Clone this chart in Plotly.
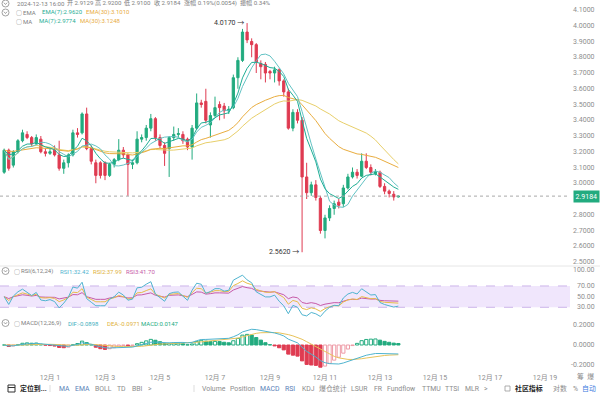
import numpy as np
import pandas as pd
import plotly.graph_objects as go

# ---------------- data (4h candles) ----------------
start_time = "2024-11-29 08:00"
opens = [3.07, 3.21, 3.115, 3.20, 3.27, 3.31, 3.29, 3.25, 3.28, 3.20,
         3.19, 3.21, 3.18, 3.095, 3.13, 3.18, 3.32, 3.32, 3.44, 3.22,
         3.13, 3.13, 3.13, 3.05, 3.12, 3.15, 3.21, 3.18, 3.12, 3.13,
         3.28, 3.29, 3.35, 3.41, 3.29, 3.24, 3.22, 3.29, 3.31, 3.31,
         3.28, 3.23, 3.35, 3.51, 3.52, 3.37, 3.43, 3.50, 3.49, 3.46,
         3.48, 3.67, 3.78, 3.96, 3.90, 3.88, 3.76, 3.755, 3.71, 3.70,
         3.72, 3.65, 3.58, 3.35, 3.45, 3.40, 3.04, 2.94, 2.99, 2.905,
         2.70, 2.78, 2.84, 2.88, 2.87, 2.97, 3.04, 3.07, 3.045, 3.14,
         3.10, 3.06, 3.07, 2.98, 2.95, 2.93, 2.9129]
highs = [3.22, 3.22, 3.21, 3.28, 3.34, 3.33, 3.30, 3.31, 3.30, 3.22,
         3.23, 3.24, 3.27, 3.15, 3.19, 3.34, 3.35, 3.45, 3.48, 3.24,
         3.15, 3.14, 3.14, 3.13, 3.16, 3.28, 3.23, 3.19, 3.15, 3.33,
         3.31, 3.37, 3.44, 3.42, 3.31, 3.26, 3.30, 3.36, 3.35, 3.33,
         3.29, 3.37, 3.57, 3.53, 3.60, 3.45, 3.55, 3.52, 3.51, 3.49,
         3.69, 3.80, 3.98, 4.017, 3.92, 3.89, 3.78, 3.77, 3.72, 3.74,
         3.73, 3.66, 3.60, 3.47, 3.47, 3.42, 3.13, 3.01, 3.02, 2.92,
         2.80, 2.86, 2.89, 2.90, 2.99, 3.06, 3.10, 3.09, 3.19, 3.19,
         3.12, 3.09, 3.08, 3.00, 2.96, 2.95, 2.92]
lows = [3.06, 3.08, 3.10, 3.19, 3.26, 3.28, 3.23, 3.24, 3.19, 3.17,
        3.18, 3.17, 3.08, 3.06, 3.10, 3.17, 3.29, 3.31, 3.21, 3.12,
        3.00, 3.03, 3.02, 3.04, 3.10, 3.14, 3.16, 2.92, 3.09, 3.12,
        3.26, 3.27, 3.33, 3.27, 3.22, 3.11, 3.04, 3.27, 3.29, 3.25,
        3.21, 3.15, 3.34, 3.48, 3.38, 3.29, 3.42, 3.40, 3.41, 3.44,
        3.47, 3.60, 3.77, 3.89, 3.80, 3.70, 3.66, 3.64, 3.66, 3.64,
        3.62, 3.55, 3.34, 3.33, 3.38, 2.562, 2.90, 2.92, 2.89, 2.68,
        2.65, 2.76, 2.80, 2.84, 2.85, 2.96, 3.03, 3.03, 3.04, 3.09,
        3.05, 3.05, 2.97, 2.93, 2.91, 2.89, 2.91]
closes = [3.21, 3.095, 3.20, 3.27, 3.32, 3.29, 3.25, 3.29, 3.20, 3.19,
          3.20, 3.18, 3.095, 3.13, 3.18, 3.32, 3.31, 3.44, 3.22, 3.14,
          3.05, 3.05, 3.05, 3.12, 3.15, 3.21, 3.18, 3.12, 3.13, 3.28,
          3.29, 3.35, 3.41, 3.29, 3.24, 3.19, 3.29, 3.31, 3.315, 3.27,
          3.23, 3.35, 3.51, 3.50, 3.40, 3.43, 3.48, 3.48, 3.46, 3.47,
          3.67, 3.78, 3.96, 3.91, 3.88, 3.77, 3.74, 3.70, 3.70, 3.72,
          3.65, 3.58, 3.35, 3.45, 3.40, 3.04, 2.94, 2.99, 2.91, 2.70,
          2.78, 2.84, 2.87, 2.86, 2.97, 3.04, 3.07, 3.05, 3.14, 3.10,
          3.07, 3.075, 2.98, 2.95, 2.935, 2.9129, 2.9184]

last_price = 2.9184
peak_label = "4.0170"
trough_label = "2.5620"

header_parts = ["2024-12-13 16:00", "开 2.9129", "高 2.9200", "低 2.9100", "收 2.9184",
                "涨幅 0.19%(0.0054)", "振幅 0.34%"]
ema_labels = ["EMA(7):2.9620", "EMA(30):3.1010"]
ma_labels = ["MA(7):2.9774", "MA(30):3.1248"]
rsi_labels = ["RSI1:32.42", "RSI2:37.99", "RSI3:41.70"]
macd_labels = ["DIF:-0.0898", "DEA:-0.0971", "MACD:0.0147"]

# 2.9000 is hidden behind the last-price tag in the reference
price_ticks = [2.5, 2.6, 2.7, 2.8, 3.0, 3.1, 3.2, 3.3, 3.4, 3.5, 3.6, 3.7, 3.8, 3.9, 4.0, 4.1]
rsi_ticks = [30, 50, 70, 100]
macd_ticks = [-0.2, 0.0, 0.2]
date_ticks = ["2024-12-01", "2024-12-03", "2024-12-05", "2024-12-07", "2024-12-09",
              "2024-12-11", "2024-12-13", "2024-12-15", "2024-12-17", "2024-12-19"]
date_tick_text = ["12月 1", "12月 3", "12月 5", "12月 7", "12月 9",
                  "12月 11", "12月 13", "12月 15", "12月 17", "12月 19"]

toolbar_left = ["MA", "EMA", "BOLL", "TD", "BBI", ">"]
toolbar_mid = ["Volume", "Position", "MACD", "RSI", "KDJ", "爆仓统计", "LSUR", "FR",
               "Fundflow", "TTMU", "TTSI", "MLR", ">"]

# ---------------- derived indicators ----------------
times = pd.date_range(start_time, periods=len(closes), freq="4h")
c = pd.Series(closes, dtype=float)
ema7 = c.ewm(span=7, adjust=False).mean()
ema30 = c.ewm(span=30, adjust=False).mean()
ma7 = c.rolling(7, min_periods=1).mean()
ma30 = c.rolling(30, min_periods=1).mean()

d = c.diff().fillna(0).values
seed = float(np.abs(d[1:]).mean()) / 2


def rsi(n):
    up, ab = seed, 2 * seed
    out = []
    for v in d:
        up = (up * (n - 1) + max(v, 0.0)) / n
        ab = (ab * (n - 1) + abs(v)) / n
        out.append(100 * up / ab)
    return out


rsi1, rsi2, rsi3 = rsi(6), rsi(12), rsi(24)
dif = c.ewm(span=12, adjust=False).mean() - c.ewm(span=26, adjust=False).mean()
dea = dif.ewm(span=9, adjust=False).mean()
hist = 2 * (dif - dea)

GREEN = "#22ab7f"
RED = "#df3b51"
GRAY = "#8e8e8e"
TEAL1 = "#1fae95"
TEAL2 = "#63c3c4"
YEL1 = "#e9ad3f"
YEL2 = "#e8cf6a"

fill_c, line_c = [], []
prev = 0.0
for h in hist:
    if h >= 0:
        if h >= prev:
            fill_c.append("white"); line_c.append(GREEN)
        else:
            fill_c.append(GREEN); line_c.append(GREEN)
    else:
        if h <= prev:
            fill_c.append(RED); line_c.append(RED)
        else:
            fill_c.append("white"); line_c.append("#ee9aa6")
    prev = h

# ---------------- figure ----------------
fig = go.Figure()
fig.add_trace(go.Candlestick(
    x=times, open=opens, high=highs, low=lows, close=closes,
    increasing=dict(line=dict(color=GREEN, width=1), fillcolor=GREEN),
    decreasing=dict(line=dict(color=RED, width=1), fillcolor=RED),
    whiskerwidth=0, yaxis="y", xaxis="x", hoverinfo="skip"))
for s, col in [(ma30, YEL2), (ema30, YEL1), (ma7, TEAL2), (ema7, TEAL1)]:
    fig.add_trace(go.Scatter(x=times, y=s, mode="lines", line=dict(color=col, width=1),
                             yaxis="y", hoverinfo="skip"))
for s, col in [(rsi3, "#c65aa8"), (rsi2, "#e7bd48"), (rsi1, "#4fb4cf")]:
    fig.add_trace(go.Scatter(x=times, y=s, mode="lines", line=dict(color=col, width=1),
                             yaxis="y2", hoverinfo="skip"))
fig.add_trace(go.Bar(x=times, y=hist, marker=dict(color=fill_c, line=dict(color=line_c, width=1)),
                     yaxis="y3", hoverinfo="skip"))
fig.add_trace(go.Scatter(x=times, y=dea, mode="lines", line=dict(color="#e8c35a", width=1),
                         yaxis="y3", hoverinfo="skip"))
fig.add_trace(go.Scatter(x=times, y=dif, mode="lines", line=dict(color="#4fb4cf", width=1),
                         yaxis="y3", hoverinfo="skip"))

PW, PH = 570.0, 372.0


def fx(p):
    return p / PW


def fy(p):
    return 1 - p / PH


FONT = "Roboto, 'Noto Sans CJK SC', sans-serif"
axis_font = dict(family=FONT, size=7, color=GRAY)
yax_common = dict(side="right", anchor="x", showticklabels=False, showgrid=False,
                  zeroline=False, ticks="")

fig.update_layout(
    width=600, height=395, margin=dict(l=0, r=30, t=0, b=23, autoexpand=False),
    paper_bgcolor="white", plot_bgcolor="white", showlegend=False,
    bargap=0.3, font=dict(family=FONT),
    xaxis=dict(type="date", anchor="y3",
               range=["2024-11-29 04:22", "2024-12-19 21:49"],
               tickvals=date_ticks, ticktext=date_tick_text, tickfont=axis_font,
               showgrid=False, zeroline=False, showline=False, ticks="",
               rangeslider=dict(visible=False)),
    yaxis=dict(domain=[fy(265), 1], range=[2.481, 4.1635], **yax_common),
    yaxis2=dict(domain=[fy(318), fy(266)], range=[9.9, 107.5], **yax_common),
    yaxis3=dict(domain=[0, fy(318)], range=[-0.27, 0.27], **yax_common),
)

shapes = []
shapes.append(dict(type="rect", xref="paper", yref="y2", x0=0, x1=1, y0=30, y1=70,
                   fillcolor="rgba(222,200,248,0.45)", line=dict(width=0), layer="below"))
for lv in (30, 70):
    shapes.append(dict(type="line", xref="paper", yref="y2", x0=0, x1=1, y0=lv, y1=lv,
                       line=dict(color="#cdb4ea", width=1, dash="dash"), layer="below"))
shapes.append(dict(type="line", xref="paper", yref="paper", x0=0, x1=fx(600),
                   y0=fy(266), y1=fy(266), line=dict(color="#e6e6e6", width=1)))
shapes.append(dict(type="line", xref="paper", yref="y", x0=0, x1=1, y0=last_price, y1=last_price,
                   line=dict(color="#a8a8a8", width=1, dash="dot")))
for yc in (3.5, 12.5, 271, 323):
    shapes.append(dict(type="circle", xref="paper", yref="paper",
                       x0=fx(2), x1=fx(9), y0=fy(yc + 3.5), y1=fy(yc - 3.5),
                       line=dict(color="#8a8a8a", width=0.8)))
    shapes.append(dict(type="path", xref="paper", yref="paper",
                       path=f"M {fx(3.9)} {fy(yc - 0.8)} L {fx(5.5)} {fy(yc + 1.0)} L {fx(7.1)} {fy(yc - 0.8)}",
                       line=dict(color="#8a8a8a", width=0.8)))
for xs in (50, 194):
    shapes.append(dict(type="line", xref="paper", yref="paper", x0=fx(xs), x1=fx(xs),
                       y0=fy(385), y1=fy(392), line=dict(color="#dddddd", width=1)))
shapes.append(dict(type="rect", xref="paper", yref="paper", x0=fx(8), x1=fx(15),
                   y0=fy(392), y1=fy(385), line=dict(color="#333", width=1)))
shapes.append(dict(type="line", xref="paper", yref="paper", x0=fx(8), x1=fx(15),
                   y0=fy(387.5), y1=fy(387.5), line=dict(color="#333", width=1)))
shapes.append(dict(type="rect", xref="paper", yref="paper", x0=fx(505), x1=fx(510),
                   y0=fy(391), y1=fy(386), line=dict(color="#999", width=0.8)))
fig.update_layout(shapes=shapes)

ann = []


def text(t, x, y, size=6.0, color=GRAY, anchor="left", bold=False):
    if bold:
        t = f"<b>{t}</b>"
    ann.append(dict(text=t, xref="paper", yref="paper", x=fx(x), y=fy(y), xanchor=anchor,
                    yanchor="middle", showarrow=False,
                    font=dict(family=FONT, size=size, color=color)))


# right-aligned axis labels
for yref, vals, fmt in (("y", price_ticks, "{:.4f}"), ("y2", rsi_ticks, "{:.2f}"),
                        ("y3", macd_ticks, "{:.4f}")):
    for v in vals:
        ann.append(dict(text=fmt.format(v), xref="paper", yref=yref, x=fx(597), y=v,
                        xanchor="right", yanchor="middle", showarrow=False,
                        font=dict(family=FONT, size=7, color=GRAY)))

hx = [15, 65, 93, 122, 152, 182, 238]
for t, x in zip(header_parts, hx):
    text(t, x, 3.5, size=6.1, color="#808080")
text("○", 14, 12.5, color="#808080")
text("EMA", 21, 12.5, color="#808080")
text(ema_labels[0], 40, 12.5, color=TEAL1)
text(ema_labels[1], 84, 12.5, color=YEL1)
text("○", 14, 21.5, color="#808080")
text("MA", 21, 21.5, color="#808080")
text(ma_labels[0], 37, 21.5, color=TEAL1)
text(ma_labels[1], 78, 21.5, color=YEL1)

text("○", 12, 271, color="#808080")
text("RSI(6,12,24)", 19, 271, color="#808080")
text(rsi_labels[0], 58, 271, color="#4fb4cf")
text(rsi_labels[1], 91, 271, color="#e0b23c")
text(rsi_labels[2], 124, 271, color="#c65aa8")
text("○", 12, 323, color="#808080")
text("MACD(12,26,9)", 19, 323, color="#808080")
text(macd_labels[0], 66, 323, color="#3fb0c0")
text(macd_labels[1], 105, 323, color="#e0b23c")
text(macd_labels[2], 139, 323, color=GREEN)

TB = 6.9
text("定位到...", 18, 388.5, size=TB, color="#222", bold=True)
left_x = [57, 73, 93, 115, 130, 146]
for t, x in zip(toolbar_left, left_x):
    text(t, x, 388.5, size=TB, color="#5b7fb8" if t in ("MA", "EMA") else "#8c8c8c")
mid_x = [200, 228, 258, 283, 300, 317, 349, 372, 385, 420, 443, 463, 482]
for t, x in zip(toolbar_mid, mid_x):
    text(t, x, 388.5, size=TB, color="#5b7fb8" if t in ("MACD", "RSI") else "#8c8c8c")
text("社区指标", 513, 388.5, size=TB, color="#222", bold=True)
text("对数", 551, 388.5, size=TB, color="#8c8c8c")
text("%", 571, 388.5, size=TB, color="#8c8c8c")
text("自动", 598, 388.5, size=TB, color="#3d7be0", anchor="right")
text("筹  爆", 596, 376, size=6.8, color="#8c8c8c", anchor="right")

ann.append(dict(text=f"{last_price:.4f}", xref="paper", yref="y", x=fx(573), y=last_price,
                xanchor="left", yanchor="middle", showarrow=False, bgcolor=GREEN,
                borderpad=1.5, font=dict(family=FONT, size=7, color="white")))

i_hi = int(np.argmax(highs))
i_lo = int(np.argmin(lows))
ann.append(dict(text=f"{peak_label} →", x=times[i_hi], y=highs[i_hi], xref="x", yref="y",
                xanchor="right", yanchor="middle", xshift=-1, showarrow=False,
                font=dict(family=FONT, size=7, color="#333")))
ann.append(dict(text=f"{trough_label} →", x=times[i_lo], y=lows[i_lo], xref="x", yref="y",
                xanchor="right", yanchor="middle", xshift=-1, showarrow=False,
                font=dict(family=FONT, size=7, color="#333")))
fig.update_layout(annotations=ann)

fig.write_html("out.html", config={"displayModeBar": False},
               post_script="document.body.style.margin='0';document.body.style.overflow='hidden';")
